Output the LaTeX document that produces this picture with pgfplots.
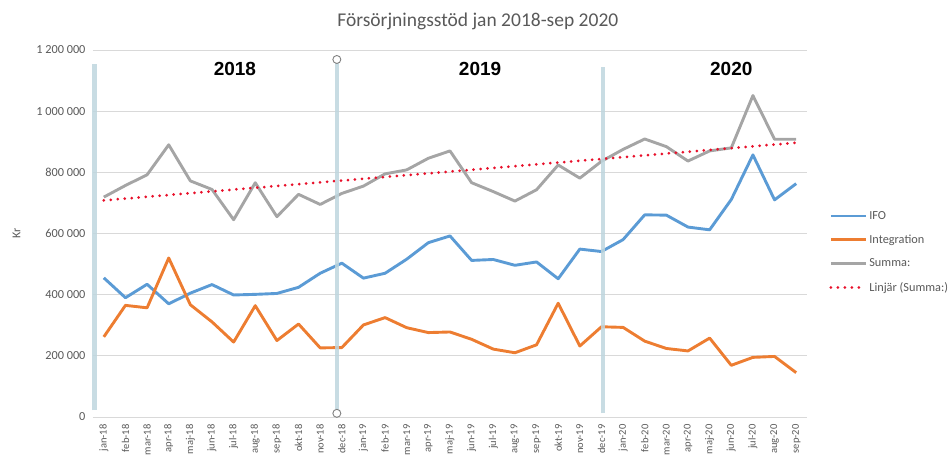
\documentclass[border=0pt]{standalone}
\usepackage{pgfplots}
\pgfplotsset{compat=1.18}
\usepackage{pgfplotstable}
\usepackage{fontspec}
\setmainfont{Carlito}
\newfontfamily\arialf{Liberation Sans}
\usetikzlibrary{calc}
\definecolor{ifoc}{HTML}{5B9BD5}
\definecolor{intc}{HTML}{ED7D31}
\definecolor{sumc}{HTML}{A5A5A5}
\definecolor{trendc}{HTML}{E8102A}
\definecolor{sepc}{RGB}{190,214,222}
\definecolor{txtc}{HTML}{595959}
\definecolor{gridc}{HTML}{D9D9D9}
\pgfplotstableread{
i ifo integ sum
0 455000 262000 719000
1 390000 365000 757000
2 434000 357000 792000
3 370000 520000 890000
4 405000 367000 772000
5 433000 311000 744000
6 399000 245000 645000
7 401000 364000 766000
8 404000 250000 655000
9 424000 304000 728000
10 470000 226000 695000
11 503000 227000 731000
12 454000 301000 755000
13 470000 325000 795000
14 516000 292000 808000
15 570000 276000 846000
16 592000 278000 870000
17 512000 254000 766000
18 515000 222000 737000
19 496000 210000 706000
20 507000 236000 743000
21 452000 372000 824000
22 549000 232000 781000
23 541000 295000 836000
24 580000 293000 875000
25 661000 248000 909000
26 660000 224000 884000
27 621000 216000 837000
28 612000 258000 870000
29 711000 169000 880000
30 857000 195000 1051000
31 710000 198000 908000
32 763000 145000 908000
}\datatable
\begin{document}
\begin{tikzpicture}
\begin{axis}[
  name=ax,
  scale only axis,
  width=714pt, height=367pt,
  xmin=-0.5, xmax=32.5,
  ymin=0, ymax=1200000,
  scaled y ticks=false,
  clip=false,
  axis line style={draw=none},
  tick style={draw=none},
  ymajorgrids,
  grid style={color=gridc, line width=0.9pt},
  ytick={0,200000,400000,600000,800000,1000000,1200000},
  yticklabels={0,200 000,400 000,600 000,800 000,1 000 000,1 200 000},
  yticklabel style={font=\fontsize{12.3}{14}\selectfont, text=txtc, xshift=-4pt},
  xtick={0,...,32},
  xticklabels={jan-18,feb-18,mar-18,apr-18,maj-18,jun-18,jul-18,aug-18,sep-18,okt-18,nov-18,dec-18,jan-19,feb-19,mar-19,apr-19,maj-19,jun-19,jul-19,aug-19,sep-19,okt-19,nov-19,dec-19,jan-20,feb-20,mar-20,apr-20,maj-20,jun-20,jul-20,aug-20,sep-20},
  xticklabel style={rotate=90, anchor=east, font=\fontsize{10.5}{12}\selectfont, text=txtc, xshift=-4pt},
  ylabel={Kr},
  ylabel style={at={(axis description cs:-0.107,0.5)}, anchor=center, font=\fontsize{12}{14}\selectfont, text=txtc},
  every axis title shift=0pt,
  title={Försörjningsstöd jan 2018-sep 2020},
  title style={at={(axis description cs:0.539,1.0817)}, anchor=center, yshift=-1pt, font=\fontsize{19.5}{22}\selectfont, text=txtc},
  legend style={draw=none, fill=none, at={(axis description cs:1.031,0.4496)}, anchor=west,
    font=\fontsize{12.3}{14}\selectfont, text=txtc, row sep=10pt, inner sep=0pt},
  legend cell align=left,
  legend image code/.code={\draw[#1] (0pt,0pt) -- (35pt,0pt);},
]
\addplot[ifoc, line width=2.9pt, line join=round] table[x=i, y=ifo] {\datatable};
\addlegendentry{IFO}
\addplot[intc, line width=2.9pt, line join=round] table[x=i, y=integ] {\datatable};
\addlegendentry{Integration}
\addplot[sumc, line width=2.9pt, line join=round] table[x=i, y=sum] {\datatable};
\addlegendentry{Summa:}
\addplot[trendc, line width=3pt, line cap=round, dash pattern=on 0pt off 7pt] table[x=i, y={create col/linear regression={y=sum}}] {\datatable};
\addlegendentry{Linjär (Summa:)}
% year separators
\draw[sepc, line width=4.5pt, opacity=0.85] (axis cs:-0.42,22000) -- (axis cs:-0.42,1153000);
\draw[sepc, line width=4.5pt, opacity=0.85] (axis cs:10.77,12000) -- (axis cs:10.77,1169000);
\draw[sepc, line width=4.5pt, opacity=0.85] (axis cs:23.08,12000) -- (axis cs:23.08,1143000);
\draw[gray, fill=white, line width=0.9pt] (axis cs:10.77,1169000) circle (4pt);
\draw[gray, fill=white, line width=0.9pt] (axis cs:10.77,12000) circle (4pt);
\node[font=\arialf\bfseries\fontsize{19}{22}\selectfont] at (axis cs:6.06,1136700) {2018};
\node[font=\arialf\bfseries\fontsize{19}{22}\selectfont] at (axis cs:17.39,1136700) {2019};
\node[font=\arialf\bfseries\fontsize{19}{22}\selectfont] at (axis cs:29.0,1136700) {2020};
\end{axis}
\pgfresetboundingbox
\path ($(ax.south west)+(-93pt,-45pt)$) rectangle ($(ax.north east)+(142pt,50pt)$);
\end{tikzpicture}
\end{document}
